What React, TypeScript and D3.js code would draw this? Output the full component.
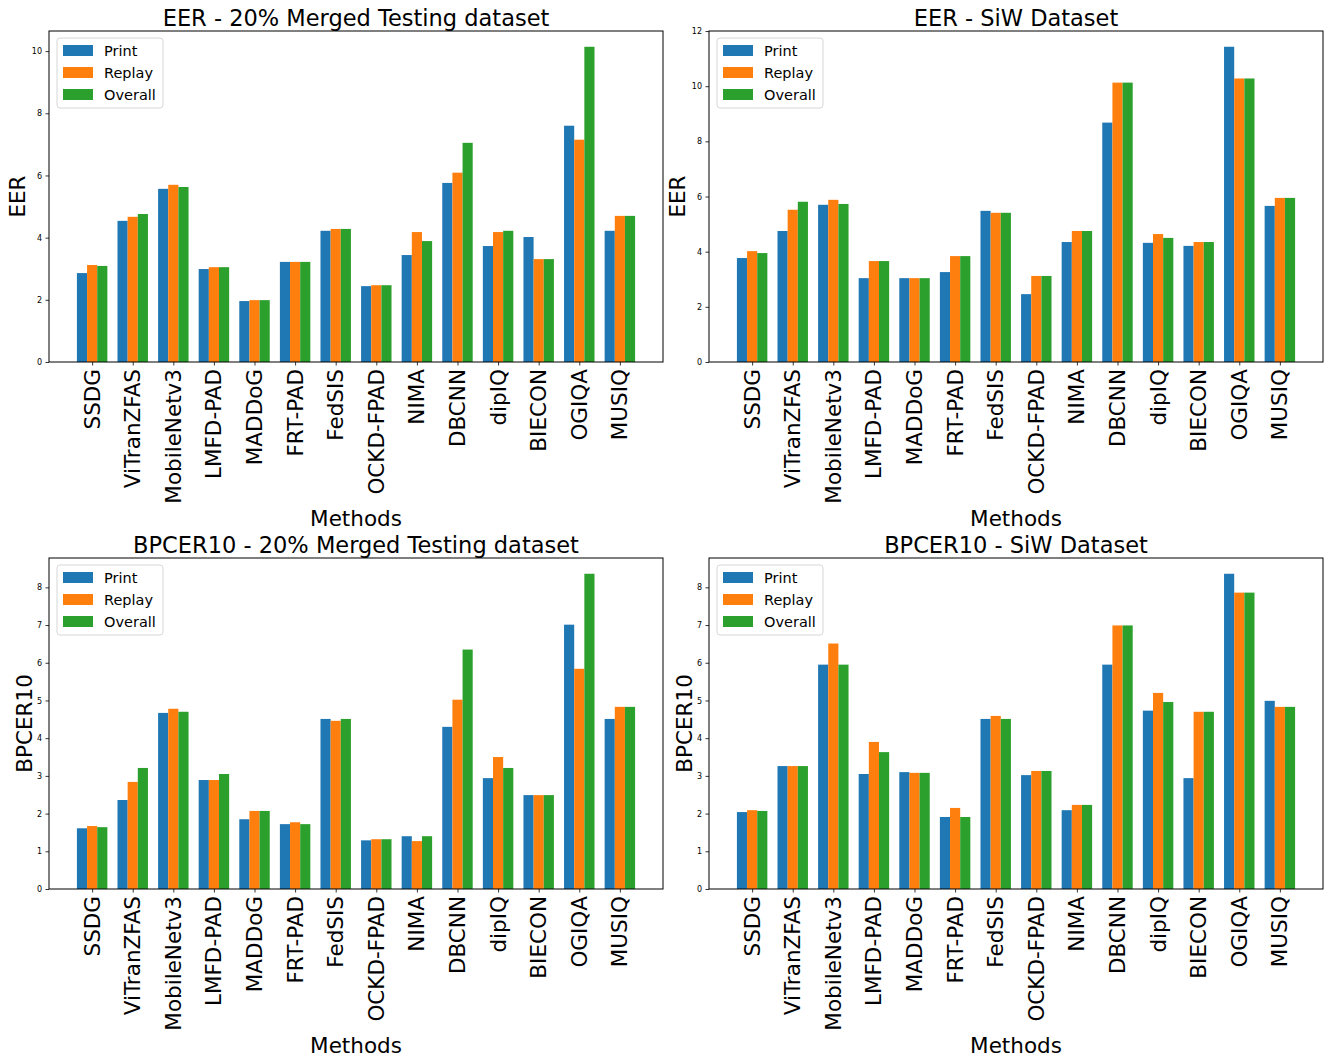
import React, { useRef, useEffect } from "react";
import * as d3 from "d3";

const methods = [
  "SSDG", "ViTranZFAS", "MobileNetv3", "LMFD-PAD", "MADDoG", "FRT-PAD", "FedSIS",
  "OCKD-FPAD", "NIMA", "DBCNN", "dipIQ", "BIECON", "OGIQA", "MUSIQ",
];
const seriesNames = ["Print", "Replay", "Overall"];
const colors = ["#1f77b4", "#ff7f0e", "#2ca02c"];

// EER - 20% Merged Testing dataset
const eerMergedPrint = [2.86, 4.54, 5.57, 2.99, 1.96, 3.22, 4.22, 2.44, 3.44, 5.76, 3.73, 4.02, 7.6, 4.22];
const eerMergedReplay = [3.12, 4.67, 5.7, 3.05, 1.99, 3.22, 4.28, 2.47, 4.18, 6.09, 4.18, 3.31, 7.15, 4.7];
const eerMergedOverall = [3.09, 4.76, 5.63, 3.05, 1.99, 3.22, 4.28, 2.47, 3.89, 7.05, 4.22, 3.31, 10.14, 4.7];

// EER - SiW Dataset
const eerSiwPrint = [3.77, 4.75, 5.7, 3.04, 3.04, 3.26, 5.48, 2.46, 4.35, 8.68, 4.32, 4.21, 11.43, 5.66];
const eerSiwReplay = [4.02, 5.52, 5.88, 3.66, 3.04, 3.84, 5.41, 3.12, 4.75, 10.13, 4.64, 4.35, 10.28, 5.95];
const eerSiwOverall = [3.95, 5.81, 5.73, 3.66, 3.04, 3.84, 5.41, 3.12, 4.75, 10.13, 4.5, 4.35, 10.28, 5.95];

// BPCER10 - 20% Merged Testing dataset
const bpMergedPrint = [1.61, 2.36, 4.67, 2.89, 1.85, 1.72, 4.51, 1.29, 1.4, 4.3, 2.94, 2.49, 7.01, 4.51];
const bpMergedReplay = [1.67, 2.84, 4.78, 2.89, 2.07, 1.77, 4.46, 1.32, 1.27, 5.02, 3.5, 2.49, 5.84, 4.83];
const bpMergedOverall = [1.64, 3.21, 4.7, 3.05, 2.07, 1.72, 4.51, 1.32, 1.4, 6.35, 3.21, 2.49, 8.36, 4.83];

// BPCER10 - SiW Dataset
const bpSiwPrint = [2.04, 3.26, 5.95, 3.05, 3.1, 1.91, 4.51, 3.02, 2.09, 5.95, 4.73, 2.94, 8.36, 4.99];
const bpSiwReplay = [2.09, 3.26, 6.51, 3.9, 3.08, 2.15, 4.59, 3.13, 2.23, 6.99, 5.2, 4.7, 7.86, 4.83];
const bpSiwOverall = [2.07, 3.26, 5.95, 3.63, 3.08, 1.91, 4.51, 3.13, 2.23, 6.99, 4.96, 4.7, 7.86, 4.83];

const eerTicks = [0, 2, 4, 6, 8, 10];
const eerSiwTicks = [0, 2, 4, 6, 8, 10, 12];
const bpTicks = [0, 1, 2, 3, 4, 5, 6, 7, 8];

const FONT = "'DejaVu Sans', sans-serif";

const panels = [
  { title: "EER - 20% Merged Testing dataset", ylabel: "EER", series: [eerMergedPrint, eerMergedReplay, eerMergedOverall], ticks: eerTicks, x: 49, y: 31 },
  { title: "EER - SiW Dataset", ylabel: "EER", series: [eerSiwPrint, eerSiwReplay, eerSiwOverall], ticks: eerSiwTicks, x: 709, y: 31 },
  { title: "BPCER10 - 20% Merged Testing dataset", ylabel: "BPCER10", series: [bpMergedPrint, bpMergedReplay, bpMergedOverall], ticks: bpTicks, x: 49, y: 558 },
  { title: "BPCER10 - SiW Dataset", ylabel: "BPCER10", series: [bpSiwPrint, bpSiwReplay, bpSiwOverall], ticks: bpTicks, x: 709, y: 558 },
];

const W = 614;
const H = 331;

const App = () => {
  const svgRef = useRef(null);

  useEffect(() => {
    const svg = d3.select(svgRef.current);
    svg.selectAll("*").remove();

    const barW = 0.25;

    panels.forEach((p) => {
      const g = svg.append("g").attr("transform", `translate(${p.x}, ${p.y})`);

      // matplotlib style 5% margins
      const lo = -1.5 * barW;
      const hi = methods.length - 1 + 1.5 * barW;
      const pad = (hi - lo) * 0.05;
      const x = d3.scaleLinear().domain([lo - pad, hi + pad]).range([0, W]);
      const maxV = d3.max(p.series.flat());
      const y = d3.scaleLinear().domain([0, maxV * 1.05]).range([H, 0]);

      // bars
      p.series.forEach((vals, si) => {
        g.append("g")
          .selectAll("rect")
          .data(vals)
          .join("rect")
          .attr("x", (d, i) => x(i + (si - 1) * barW - barW / 2))
          .attr("width", x(barW) - x(0))
          .attr("y", (d) => y(d))
          .attr("height", (d) => H - y(d))
          .attr("fill", colors[si]);
      });

      // y axis
      const yAxis = g.append("g").call(d3.axisLeft(y).tickValues(p.ticks).tickSize(3.5).tickPadding(3.5).tickFormat(d3.format("d")));
      yAxis.select(".domain").remove();
      yAxis.selectAll("text").attr("font-family", FONT).attr("font-size", 8).attr("fill", "#000");
      yAxis.selectAll("line").attr("stroke", "#000").attr("stroke-width", 0.8);

      // x axis
      const xAxis = g.append("g").attr("transform", `translate(0, ${H})`)
        .call(d3.axisBottom(x).tickValues(d3.range(methods.length)).tickSize(3.5).tickFormat(() => ""));
      xAxis.select(".domain").remove();
      xAxis.selectAll("line").attr("stroke", "#000").attr("stroke-width", 0.8);

      g.append("g")
        .selectAll("text")
        .data(methods)
        .join("text")
        .attr("transform", (d, i) => `translate(${x(i)}, ${H + 7}) rotate(-90)`)
        .attr("text-anchor", "end")
        .attr("dy", "0.35em")
        .attr("font-family", FONT)
        .attr("font-size", 21.5)
        .text((d) => d);

      // frame
      g.append("rect")
        .attr("width", W)
        .attr("height", H)
        .attr("fill", "none")
        .attr("stroke", "#000")
        .attr("stroke-width", 1);

      // title
      g.append("text")
        .attr("x", W / 2)
        .attr("y", -5)
        .attr("text-anchor", "middle")
        .attr("font-family", FONT)
        .attr("font-size", 22.5)
        .text(p.title);

      // axis labels
      g.append("text")
        .attr("x", W / 2)
        .attr("y", H + 164)
        .attr("text-anchor", "middle")
        .attr("font-family", FONT)
        .attr("font-size", 21.5)
        .text("Methods");

      const labelOff = d3.max(p.ticks) >= 10 ? 24 : 17;
      g.append("text")
        .attr("transform", `translate(${-labelOff}, ${H / 2}) rotate(-90)`)
        .attr("text-anchor", "middle")
        .attr("font-family", FONT)
        .attr("font-size", 21.5)
        .text(p.ylabel);

      // legend
      const lg = g.append("g").attr("transform", "translate(8, 7)");
      lg.append("rect")
        .attr("width", 106)
        .attr("height", 70)
        .attr("rx", 3)
        .attr("fill", "#fff")
        .attr("fill-opacity", 0.8)
        .attr("stroke", "#d6d6d6");
      seriesNames.forEach((name, i) => {
        lg.append("rect")
          .attr("x", 6)
          .attr("y", 7 + i * 22)
          .attr("width", 30)
          .attr("height", 11)
          .attr("fill", colors[i]);
        lg.append("text")
          .attr("x", 47)
          .attr("y", 18 + i * 22)
          .attr("font-family", FONT)
          .attr("font-size", 14.5)
          .text(name);
      });
    });
  }, []);

  return (
    <svg
      ref={svgRef}
      width={1330}
      height={1058}
      style={{ position: "absolute", left: 0, top: 0, background: "#fff" }}
    ></svg>
  );
};

export default App;
